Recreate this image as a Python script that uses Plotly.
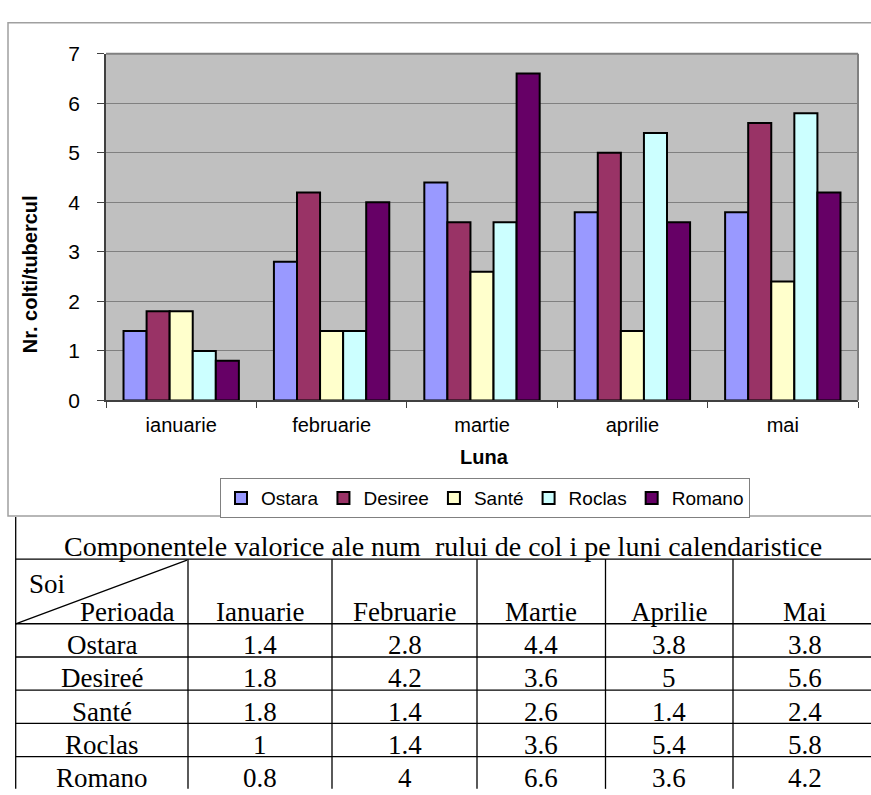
import plotly.graph_objects as go

# ---- data -------------------------------------------------------------
months = ["ianuarie", "februarie", "martie", "aprilie", "mai"]
table_months = ["Ianuarie", "Februarie", "Martie", "Aprilie", "Mai"]
varieties = ["Ostara", "Desiree", "Santé", "Roclas", "Romano"]
table_varieties = ["Ostara", "Desireé", "Santé", "Roclas", "Romano"]

ostara = [1.4, 2.8, 4.4, 3.8, 3.8]
desiree = [1.8, 4.2, 3.6, 5, 5.6]
sante = [1.8, 1.4, 2.6, 1.4, 2.4]
roclas = [1, 1.4, 3.6, 5.4, 5.8]
romano = [0.8, 4, 6.6, 3.6, 4.2]

series = [ostara, desiree, sante, roclas, romano]
colors = ["#9999FF", "#993366", "#FFFFCC", "#CCFFFF", "#660066"]

y_ticks = [0, 1, 2, 3, 4, 5, 6, 7]
y_title = "Nr. colti/tubercul"
x_title = "Luna"
table_title = "Componentele valorice ale num  rului de col i pe luni calendaristice"
corner_top = "Soi"
corner_bottom = "Perioada"

# ---- page geometry (pixels) -------------------------------------------
W, H = 871, 795
SANS = "Liberation Sans, Arial, sans-serif"
SERIF = "Liberation Serif, Times New Roman, serif"


def px(x):
    return x / W


def py(y):
    return 1 - y / H


plot_left, plot_right, plot_top, plot_bottom = 106, 858, 43, 400

fig = go.Figure()
for name, vals, col in zip(varieties, series, colors):
    fig.add_trace(go.Bar(
        x=months, y=vals, name=name,
        marker=dict(color=col, line=dict(color="black", width=2)),
        hoverinfo="x+y+name",
    ))

shapes = []
annotations = []

# outer frame of the chart block
shapes.append(dict(type="rect", xref="paper", yref="paper",
                   x0=px(8), x1=px(W + 10), y0=py(519), y1=py(11),
                   line=dict(color="#a0a0a0", width=1.5), layer="below"))
# grey top and right edges of the plot area
shapes.append(dict(type="line", xref="paper", yref="paper",
                   x0=px(plot_left), x1=px(plot_right), y0=py(plot_top), y1=py(plot_top),
                   line=dict(color="#808080", width=2), layer="above"))
shapes.append(dict(type="line", xref="paper", yref="paper",
                   x0=px(plot_right), x1=px(plot_right), y0=py(plot_top), y1=py(plot_bottom),
                   line=dict(color="#808080", width=2), layer="above"))

# axis titles
annotations.append(dict(text=f"<b>{y_title}</b>", xref="paper", yref="paper",
                        x=px(30), y=py(270), textangle=-90, showarrow=False,
                        font=dict(family=SANS, size=20, color="black"),
                        xanchor="center", yanchor="middle"))
annotations.append(dict(text=f"<b>{x_title}</b>", xref="paper", yref="paper",
                        x=px(484), y=py(458), showarrow=False,
                        font=dict(family=SANS, size=20, color="black"),
                        xanchor="center", yanchor="middle"))

# ---- table drawn underneath the chart -----------------------------------
t_left, t_right = 15.7, W + 5
col_edges = [t_left, 188, 332, 477, 605.5, 733, t_right]
title_bottom = 563.5
header_bottom = 630
row_h = 34.2
row_edges = [header_bottom + row_h * i for i in range(len(table_varieties) + 1)]
line_style = dict(color="black", width=1.3)
text_drop = 5  # visual centring of serif text inside a cell

# left border
shapes.append(dict(type="line", xref="paper", yref="paper",
                   x0=px(t_left), x1=px(t_left), y0=py(520), y1=py(H + 5),
                   line=line_style))
# horizontal rules
for yy in [title_bottom] + row_edges[:-1]:
    shapes.append(dict(type="line", xref="paper", yref="paper",
                       x0=px(t_left), x1=px(t_right), y0=py(yy), y1=py(yy),
                       line=line_style))
# vertical rules
for xx in col_edges[1:-1]:
    shapes.append(dict(type="line", xref="paper", yref="paper",
                       x0=px(xx), x1=px(xx), y0=py(title_bottom), y1=py(H + 5),
                       line=line_style))
# diagonal in the corner cell
shapes.append(dict(type="line", xref="paper", yref="paper",
                   x0=px(t_left), x1=px(187), y0=py(header_bottom), y1=py(title_bottom + 1),
                   line=line_style))

tfont = dict(family=SERIF, size=27, color="black")
annotations.append(dict(text=table_title, xref="paper", yref="paper",
                        x=px((t_left + W) / 2), y=py(545 + text_drop), showarrow=False,
                        font=dict(family=SERIF, size=28, color="black"),
                        xanchor="center", yanchor="middle"))
annotations.append(dict(text=corner_top, xref="paper", yref="paper",
                        x=px(27), y=py(584 + text_drop), showarrow=False,
                        font=tfont, xanchor="left", yanchor="middle"))
annotations.append(dict(text=corner_bottom, xref="paper", yref="paper",
                        x=px(176), y=py(613 + text_drop), showarrow=False,
                        font=tfont, xanchor="right", yanchor="middle"))
for j, m in enumerate(table_months):
    cx = (col_edges[j + 1] + col_edges[j + 2]) / 2
    annotations.append(dict(text=m, xref="paper", yref="paper",
                            x=px(cx), y=py(613 + text_drop), showarrow=False,
                            font=tfont, xanchor="center", yanchor="middle"))
for i, (name, vals) in enumerate(zip(table_varieties, series)):
    cy = (row_edges[i] + row_edges[i + 1]) / 2 + text_drop
    annotations.append(dict(text=name, xref="paper", yref="paper",
                            x=px((col_edges[0] + col_edges[1]) / 2), y=py(cy),
                            showarrow=False, font=tfont,
                            xanchor="center", yanchor="middle"))
    for j, v in enumerate(vals):
        cx = (col_edges[j + 1] + col_edges[j + 2]) / 2
        annotations.append(dict(text=f"{v:g}", xref="paper", yref="paper",
                                x=px(cx), y=py(cy), showarrow=False, font=tfont,
                                xanchor="center", yanchor="middle"))

fig.update_layout(
    width=W, height=H,
    margin=dict(l=0, r=0, t=0, b=0),
    paper_bgcolor="white",
    plot_bgcolor="#C0C0C0",
    barmode="group",
    bargap=0.233,
    bargroupgap=0,
    showlegend=True,
    legend=dict(orientation="h", x=px(485), y=py(480), xanchor="center", yanchor="top",
                bgcolor="white", bordercolor="#808080", borderwidth=1,
                font=dict(family=SANS, size=19, color="black"),
                itemwidth=30, traceorder="normal"),
    xaxis=dict(domain=[px(plot_left), px(plot_right)], type="category",
               showgrid=False, showline=True, linecolor="#404040", linewidth=1.5,
               ticks="outside", tickson="boundaries", ticklen=6,
               tickcolor="#404040", ticklabelstandoff=6,
               tickfont=dict(family=SANS, size=20, color="black"), fixedrange=True),
    yaxis=dict(domain=[py(plot_bottom), py(plot_top)], range=[0, 7],
               tickvals=y_ticks, showgrid=True, gridcolor="#808080", gridwidth=1,
               showline=True, linecolor="#404040", linewidth=1.5,
               ticks="outside", ticklen=7, tickcolor="#404040", ticklabelstandoff=13,
               zeroline=False,
               tickfont=dict(family=SANS, size=21, color="black"), fixedrange=True),
    shapes=shapes,
    annotations=annotations,
)

fig.write_html("out.html")
